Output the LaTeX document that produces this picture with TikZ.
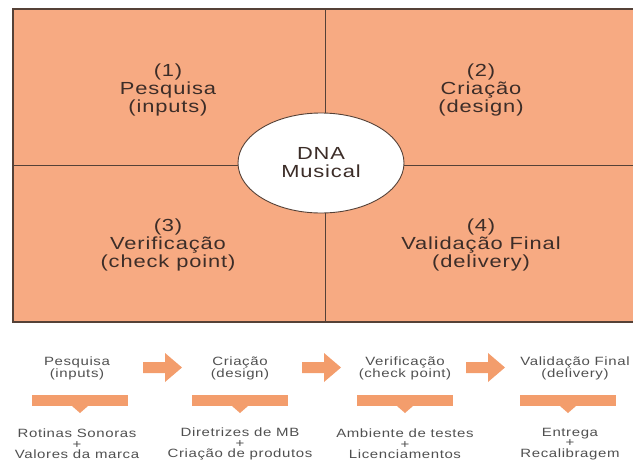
\documentclass[tikz,border=0pt]{standalone}
\usepackage{fontspec}
\setmainfont{Liberation Sans}[FakeStretch=1.25,LetterSpace=5]
\usetikzlibrary{shapes.geometric}
\definecolor{salmon}{RGB}{247,170,130}
\definecolor{arrowor}{RGB}{243,157,108}
\definecolor{edge}{RGB}{85,65,55}
\definecolor{ink}{RGB}{60,45,40}
\definecolor{greyink}{RGB}{80,80,80}

\begin{document}
\begin{tikzpicture}[x=1pt,y=-1pt,
    quad/.style={align=center,text=ink,font=\fontsize{17.5}{18}\selectfont},
    stagelabel/.style={align=center,text=greyink,font=\fontsize{12}{12}\selectfont},
    resultlabel/.style={align=center,text=greyink,font=\fontsize{12}{10.5}\selectfont}]
        \useasboundingbox (0,0) rectangle (633,466);

        % quadrantes
        \fill[salmon] (13,9) rectangle (633,322);
        \draw[edge,line width=1.1pt] (633,9) -- (13,9) -- (13,322) -- (633,322);
        \draw[edge,line width=0.9pt] (13,165) -- (633,165);
        \draw[edge,line width=0.9pt] (325,9) -- (325,322);

        \node[quad] (q1) at (168,90) {(1)\\Pesquisa\\(inputs)};
        \node[quad] (q2) at (481,90) {(2)\\Criação\\(design)};
        \node[quad] (q3) at (168,245) {(3)\\Verificação\\(check point)};
        \node[quad] (q4) at (481,245) {(4)\\Validação Final\\(delivery)};

        \node[ellipse,draw=edge,line width=0.9pt,fill=white,minimum width=166pt,minimum height=100pt,
              quad] (dna) at (321,163) {DNA\\Musical};

        % etapas
        \node[stagelabel] (e1) at (77,368) {Pesquisa\\(inputs)};
        \node[stagelabel] (e2) at (240,368) {Criação\\(design)};
        \node[stagelabel] (e3) at (405,368) {Verificação\\(check point)};
        \node[stagelabel] (e4) at (575,368) {Validação Final\\(delivery)};

        \foreach \x in {143,302,466}
            \fill[arrowor] (\x,362) -- ++(22,0) -- ++(0,-9) -- ++(17,14.5) -- ++(-17,14.5)
                -- ++(0,-9) -- ++(-22,0) -- cycle;

        \foreach \x in {80,240,405,568} {
            \fill[arrowor] (\x-48,395) rectangle (\x+48,406);
            \fill[arrowor] (\x-8,406) -- (\x+8,406) -- (\x,413) -- cycle;
        }

        \node[resultlabel] (r1) at (77,444) {Rotinas Sonoras\\+\\Valores da marca};
        \node[resultlabel] (r2) at (240,444) {Diretrizes de MB\\+\\Criação de produtos};
        \node[resultlabel] (r3) at (405,444) {Ambiente de testes\\+\\Licenciamentos};
        \node[resultlabel] (r4) at (570,444) {Entrega\\+\\Recalibragem};
    \end{tikzpicture}
\end{document}
